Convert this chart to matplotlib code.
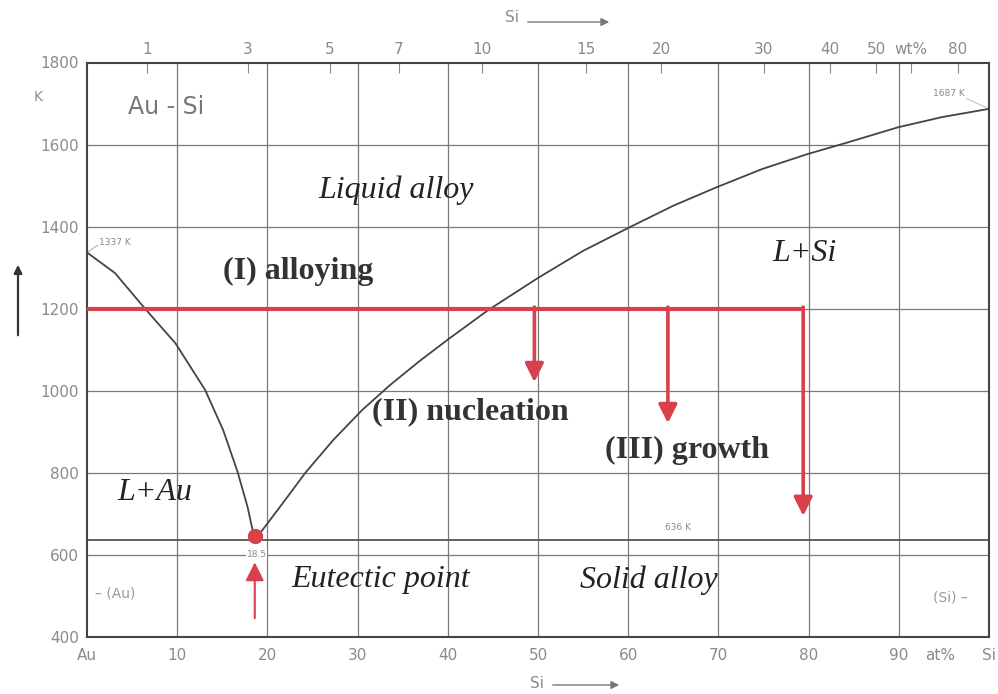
import numpy as np
import matplotlib
matplotlib.use("Agg")
from matplotlib import pyplot as plt
from matplotlib.patches import FancyArrowPatch

# Au-Si phase diagram with VLS growth path
# liquidus, Au-rich side (at% Si, K)
liq_au_x = [0, 3.1, 6.4, 9.8, 13.1, 15.1, 16.7, 17.8, 18.6]
liq_au_T = [1337, 1287, 1201, 1116, 1002, 904, 802, 717, 636]
# liquidus, Si-rich side
liq_si_x = [18.6, 21.7, 24.2, 27.3, 30.5, 33.6, 36.9, 40.2, 44.5, 50.0,
            55.0, 60.2, 65.0, 69.8, 74.8, 79.9, 84.3, 89.9, 94.8, 100]
liq_si_T = [636, 726, 800, 880, 953, 1014, 1073, 1128, 1197, 1275,
            1341, 1399, 1451, 1496, 1540, 1577, 1605, 1642, 1667, 1687]

eutectic_x = 18.6
eutectic_T = 636
process_T = 1200
# drop arrows: composition, end temperature
drop_x = [49.6, 64.4, 79.4]
drop_T = [1021, 921, 695]

x_ticks = [0, 10, 20, 30, 40, 50, 60, 70, 80, 90, 100]
x_labels = ["Au", "10", "20", "30", "40", "50", "60", "70", "80", "90", "Si"]
y_ticks = [400, 600, 800, 1000, 1200, 1400, 1600, 1800]
wt_ticks = [1, 3, 5, 7, 10, 15, 20, 30, 40, 50, 60, 80]
wt_labels = ["1", "3", "5", "7", "10", "15", "20", "30", "40", "50", "wt%", "80"]

M_SI = 28.086
M_AU = 196.97

RED = "#d8404c"
GRID = "#7a7a7a"
LBL = "#8a8a8a"


def wt_to_at(w):
    w = np.asarray(w, dtype=float)
    n_si = w / M_SI
    n_au = (100 - w) / M_AU
    return 100 * n_si / (n_si + n_au)


def at_to_wt(a):
    a = np.asarray(a, dtype=float)
    m_si = a * M_SI
    m_au = (100 - a) * M_AU
    return 100 * m_si / (m_si + m_au)


fig = plt.figure(figsize=(9.98, 6.94), dpi=100)
ax = fig.add_axes([87 / 998, 57 / 694, 902 / 998, 574.5 / 694])
ax.set_xlim(0, 100)
ax.set_ylim(400, 1800)

# grid
for x in range(10, 100, 10):
    ax.axvline(x, color=GRID, lw=0.9, zorder=1)
for y in range(600, 1800, 200):
    ax.axhline(y, color=GRID, lw=0.9, zorder=1)

# eutectic horizontal
ax.axhline(eutectic_T, color="#555555", lw=1.3, zorder=2)

# liquidus
ax.plot(liq_au_x, liq_au_T, color="#444444", lw=1.3, zorder=3)
ax.plot(liq_si_x, liq_si_T, color="#444444", lw=1.3, zorder=3)

# process path
ax.plot([0, drop_x[-1]], [process_T, process_T], color=RED, lw=3, zorder=4,
        solid_capstyle="butt")
for dx, dt in zip(drop_x, drop_T):
    ax.annotate("", xy=(dx, dt), xytext=(dx, process_T + 4),
                arrowprops=dict(arrowstyle="-|>", color=RED, lw=2.6,
                                mutation_scale=28, shrinkA=0, shrinkB=0),
                zorder=4)
ax.plot(eutectic_x, 645, "o", color=RED, ms=10, zorder=5)
ax.annotate("", xy=(eutectic_x, 582), xytext=(eutectic_x, 446),
            arrowprops=dict(arrowstyle="-|>", color=RED, lw=1.5,
                            mutation_scale=28, shrinkA=0, shrinkB=0),
            zorder=4)

# axes styling
for s in ax.spines.values():
    s.set_color("#444444")
    s.set_linewidth(1.5)
ax.set_xticks(x_ticks)
ax.set_xticklabels(x_labels)
ax.set_yticks(y_ticks)
ax.tick_params(axis="both", length=0, colors=LBL, labelsize=11, pad=8)
ax.tick_params(axis="y", pad=6)

top = ax.secondary_xaxis("top", functions=(at_to_wt, wt_to_at))
top.set_xticks(wt_ticks)
top.set_xticklabels(wt_labels)
top.tick_params(axis="x", direction="in", length=8, colors=LBL, labelsize=11, pad=4)
top.spines["top"].set_visible(False)

serif = "Liberation Serif"
ax.text(4.5, 1691, "Au - Si", fontsize=17, color="#777777", va="center", ha="left")
italic_labels = [("Liquid alloy", 34.3, 1489), ("L+Si", 79.6, 1335), ("L+Au", 7.5, 751),
                 ("Eutectic point", 32.6, 539), ("Solid alloy", 62.3, 539)]
for txt, x, y in italic_labels:
    ax.text(x, y, txt, family=serif, style="italic", fontsize=23,
            color="#222222", ha="center", va="center")
step_labels = [("(I) alloying", 23.4, 1290), ("(II) nucleation", 42.5, 950),
               ("(III) growth", 66.5, 855)]
for txt, x, y in step_labels:
    ax.text(x, y, txt, family=serif, weight="bold", fontsize=23,
            color="#333333", ha="center", va="center")

# small annotations
ax.text(1.3, 1362, "1337 K", fontsize=6.5, color="#888888", va="center")
ax.plot([0, 1.2], [1337, 1355], color="#aaaaaa", lw=0.7)
ax.text(95.5, 1725, "1687 K", fontsize=6.5, color="#888888", va="center", ha="center")
ax.plot([97.5, 100], [1712, 1687], color="#bbbbbb", lw=0.7)
ax.text(65.5, 668, "636 K", fontsize=6.5, color="#888888", va="center", ha="center")
ax.text(18.8, 602, "18.5", fontsize=6.5, color="#888888", va="center", ha="center",
        bbox=dict(facecolor="white", edgecolor="none", pad=0.5))
ax.text(0.9, 507, "– (Au)", fontsize=10, color="#999999", va="center", ha="left")
ax.text(95.7, 497, "(Si) –", fontsize=10, color="#999999", va="center", ha="center")

# axis captions
fig.text(940 / 998, 1 - 655 / 694, "at%", fontsize=11, color=LBL, ha="center", va="center")
fig.text(38 / 998, 1 - 97 / 694, "K", fontsize=10, color=LBL, ha="center", va="center")
fig.text(512 / 998, 1 - 18 / 694, "Si", fontsize=11, color=LBL, ha="center", va="center")
fig.text(537 / 998, 1 - 683 / 694, "Si", fontsize=11, color=LBL, ha="center", va="center")
for (x0, y0), (x1, y1), c, w in [((525, 22), (612, 22), "#777777", 1),
                                 ((550, 685), (622, 685), "#777777", 1),
                                 ((18, 338), (18, 262), "#333333", 1.6)]:
    fig.patches.append(FancyArrowPatch(
        (x0 / 998, 1 - y0 / 694), (x1 / 998, 1 - y1 / 694), transform=fig.transFigure,
        arrowstyle="-|>", mutation_scale=12, color=c, lw=w))

fig.savefig("out.png", dpi=100, facecolor="white")
